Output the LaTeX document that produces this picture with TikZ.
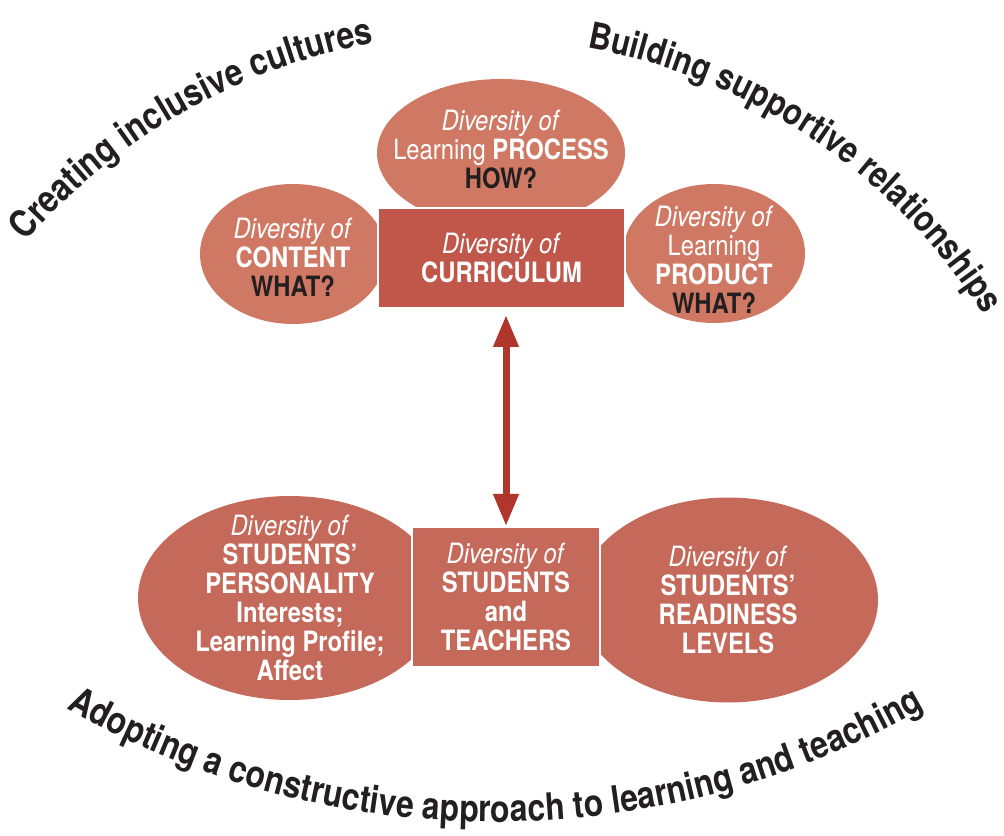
\documentclass[tikz,border=0pt]{standalone}
\usepackage{fontspec}
\setmainfont{TeX Gyre Heros}[FakeStretch=0.85]
\usetikzlibrary{shapes.geometric,arrows.meta,decorations.text}

\definecolor{toplight}{HTML}{CF7964}
\definecolor{topdark}{HTML}{C1574A}
\definecolor{lowfill}{HTML}{C5695A}
\definecolor{arrowred}{HTML}{B0352B}
\definecolor{inkdark}{HTML}{231F20}

\newcommand{\dk}[1]{\textcolor{inkdark}{#1}}
\newcommand{\arcfont}[1][18.8]{\fontsize{#1}{#1}\selectfont\bfseries\color{inkdark}}

\tikzset{
  blob/.style={ellipse, inner sep=0pt},
  cbox/.style={rectangle, draw=white, line width=1pt, inner sep=0pt},
  words/.style={text=white, align=center, inner sep=0pt, font=\fontsize{14}{14.5}\selectfont},
  link/.style={draw=arrowred, line width=3.5pt, {Triangle[length=16pt,width=12pt]}-{Triangle[length=16pt,width=12pt]}},
  curvetext/.style={decorate, decoration={text along path, text align=center, text={#1}}}
}

\begin{document}
\begin{tikzpicture}[x=0.5pt,y=0.5pt]
\useasboundingbox (0,0) rectangle (1004,835);

\node[blob, fill=toplight, minimum width=124pt, minimum height=74pt] (proc) at (501,682) {};
\node[blob, fill=toplight, minimum width=93pt, minimum height=70pt] (cont) at (293,581) {};
\node[blob, fill=toplight, minimum width=91pt, minimum height=69.5pt] (prod) at (714,581.5) {};
\node[cbox, fill=topdark, minimum width=123.5pt, minimum height=50pt] (curr) at (501.5,577) {};

\node[words, yshift=2pt] (proctxt) at (proc) {\textit{Diversity of}\\Learning \textbf{PROCESS}\\\textbf{\dk{HOW?}}};
\node[words, yshift=-1.5pt] (conttxt) at (cont) {\textit{Diversity of}\\\textbf{CONTENT}\\\textbf{\dk{WHAT?}}};
\node[words, yshift=-3pt] (prodtxt) at (prod) {\textit{Diversity of}\\Learning\\\textbf{PRODUCT}\\\textbf{\dk{WHAT?}}};
\node[words] (currtxt) at (curr) {\textit{Diversity of}\\\textbf{CURRICULUM}};

\node[blob, fill=lowfill, minimum width=152pt, minimum height=102pt] (pers) at (290,237) {};
\node[blob, fill=lowfill, minimum width=150pt, minimum height=102.5pt] (ready) at (728,235) {};
\node[cbox, fill=lowfill, minimum width=94pt, minimum height=70pt] (teach) at (506,238) {};

\node[words] (perstxt) at (pers) {\textit{Diversity of}\\\textbf{STUDENTS’}\\\textbf{PERSONALITY}\\\textbf{Interests;}\\\textbf{Learning Profile;}\\\textbf{Affect}};
\node[words] (readytxt) at (ready) {\textit{Diversity of}\\\textbf{STUDENTS’}\\\textbf{READINESS}\\\textbf{LEVELS}};
\node[words] (teachtxt) at (teach) {\textit{Diversity of}\\\textbf{STUDENTS}\\\textbf{and}\\\textbf{TEACHERS}};

\draw[link, shorten <=3pt] (curr.south -| teach.north) -- (teach.north);

% texts round the diagram
\coordinate (upper) at (480,201);
\coordinate (lower) at (495,877);
\path[curvetext={|\arcfont|Creating inclusive cultures}]
  (upper) ++(148.7:600) arc[start angle=148.7, end angle=90.7, radius=600];
\path[curvetext={|\arcfont[18.2]|Building supportive relationships}]
  (upper) ++(85:596) arc[start angle=85, end angle=27, radius=596];
\path[curvetext={|\arcfont|Adopting a constructive approach to learning and teaching}]
  (lower) ++(235:864) arc[start angle=235, end angle=305, radius=864];
\end{tikzpicture}
\end{document}
